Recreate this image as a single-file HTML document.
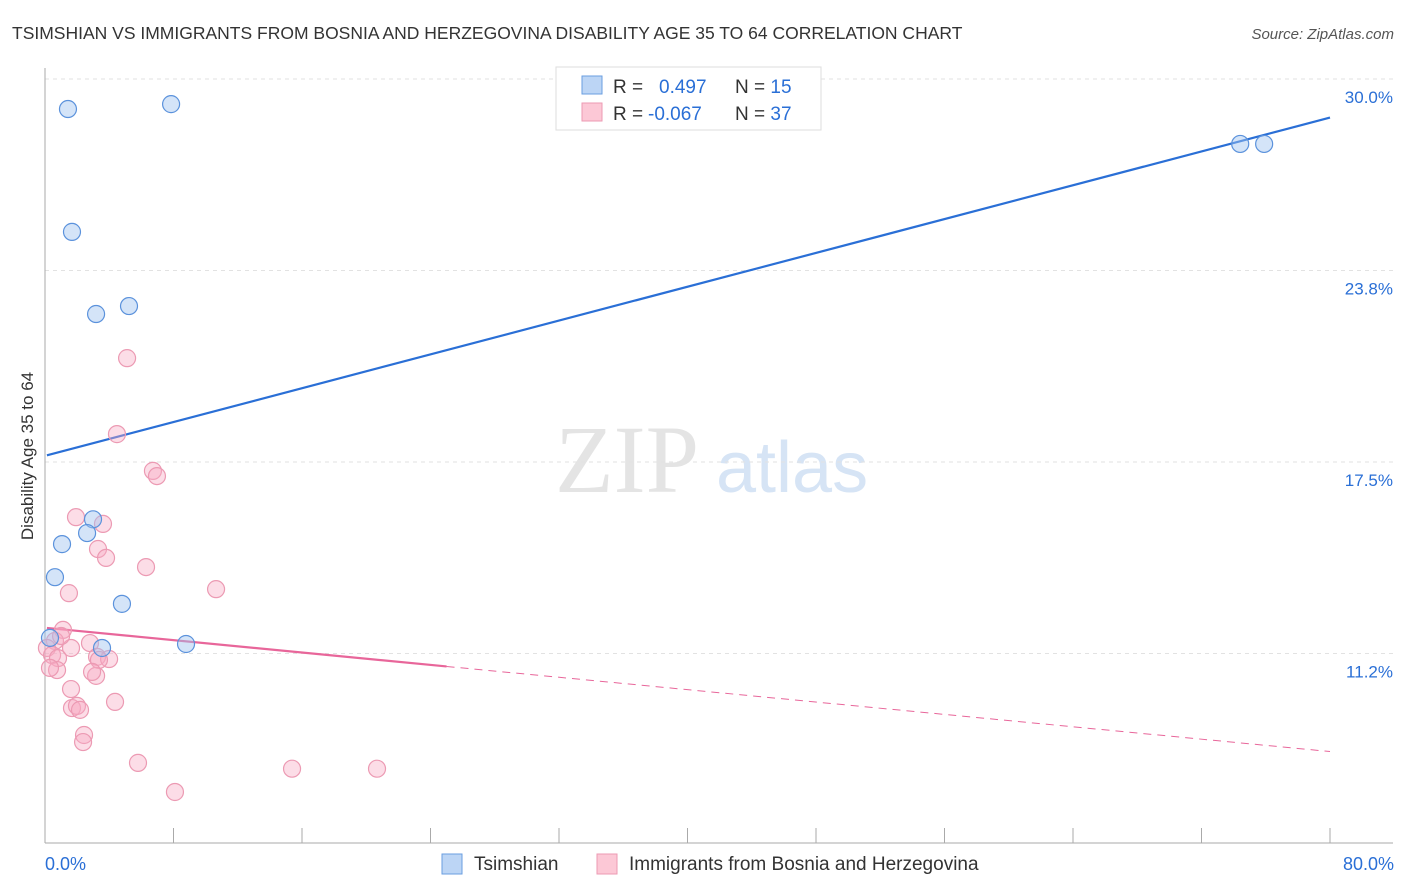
<!DOCTYPE html>
<html><head><meta charset="utf-8"><style>
body{margin:0;background:#fff;font-family:"Liberation Sans",sans-serif;}
svg{display:block}
</style></head><body>
<svg width="1406" height="892" id="chart">
<text x="12" y="39" font-size="17.5" fill="#333">TSIMSHIAN VS IMMIGRANTS FROM BOSNIA AND HERZEGOVINA DISABILITY AGE 35 TO 64 CORRELATION CHART</text>
<text x="1394" y="39" font-size="15" fill="#555" font-style="italic" text-anchor="end">Source: ZipAtlas.com</text>
<text x="555" y="492" font-size="96" fill="#e4e4e4" font-family="Liberation Serif,serif">ZIP</text>
<text x="716" y="492" font-size="72" fill="#d6e4f5">atlas</text>
<text transform="translate(33,456) rotate(-90)" font-size="17" fill="#333" text-anchor="middle">Disability Age 35 to 64</text>
<g id="grid"></g><g id="axes"></g><g id="lines"></g><g id="pts"></g>
<g>
<rect x="556" y="67" width="265" height="63" fill="#fff" stroke="#ddd"/>
<rect x="582" y="76" width="20" height="18" fill="#bcd5f5" stroke="#6a9ee0"/>
<rect x="582" y="103" width="20" height="18" fill="#fcc8d6" stroke="#ec9ab3"/>
<text x="613" y="93" font-size="19" fill="#333">R = <tspan fill="#2a6fd6" x="659">0.497</tspan><tspan x="735" fill="#333">N = </tspan><tspan fill="#2a6fd6">15</tspan></text>
<text x="613" y="120" font-size="19" fill="#333">R = <tspan fill="#2a6fd6" x="648">-0.067</tspan><tspan x="735" fill="#333">N = </tspan><tspan fill="#2a6fd6">37</tspan></text>
</g>
<g>
<rect x="442" y="854" width="20" height="20" fill="#bcd5f5" stroke="#6a9ee0"/>
<text x="474" y="870" font-size="19" fill="#333">Tsimshian</text>
<rect x="597" y="854" width="20" height="20" fill="#fcc8d6" stroke="#ec9ab3"/>
<text x="629" y="870" font-size="19" fill="#333">Immigrants from Bosnia and Herzegovina</text>
</g>
</svg>
<script>
const yTicks=[30.0,23.8,17.5,11.2];
const yTickVals=[30,23.75,17.5,11.25];
const xTickLabels=["0.0%","80.0%"];
const blueX=[1.43,7.85,1.68,3.18,5.23,2.99,2.62,1.06,0.62,4.79,3.55,8.78,0.31,74.41,75.90];
const blueY=[29.02,29.18,25.01,22.33,22.59,15.63,15.18,14.82,13.74,12.87,11.43,11.56,11.76,27.88,27.88];
const pinkX=[1.93,3.61,3.30,3.80,6.29,1.49,10.65,6.72,6.97,4.48,5.11,1.12,0.62,0.12,0.44,0.81,0.75,0.31,1.62,2.80,1.62,3.24,3.99,3.36,3.18,2.93,1.68,1.99,2.18,4.36,2.43,2.37,5.79,8.09,15.38,20.67,1.00];
const pinkY=[15.70,15.48,14.66,14.37,14.07,13.22,13.35,17.21,17.04,18.41,20.89,12.02,11.66,11.43,11.20,11.10,10.71,10.78,11.43,11.59,10.09,11.14,11.07,11.04,10.52,10.65,9.47,9.54,9.41,9.67,8.59,8.36,7.68,6.73,7.49,7.49,11.82];
const blueFit=[17.70,0.138];
const pinkFit=[12.09,-0.0505];
const NS="http://www.w3.org/2000/svg";
const xs=v=>45+v*1285/80;
const ys=v=>79+(30-v)*30.64;
function mk(t,a,p){const e=document.createElementNS(NS,t);for(const k in a)e.setAttribute(k,a[k]);document.getElementById(p).appendChild(e);return e;}
yTickVals.forEach((v,i)=>{
 const g=mk('line',{x1:45,x2:1393,y1:ys(v),y2:ys(v),stroke:'#e2e2e2','stroke-dasharray':'4,4'},'grid');
 
 
 const t=mk('text',{x:1393,y:ys(v)+24,'font-size':17,fill:'#2a6fd6','text-anchor':'end'},'axes');
 t.textContent=yTicks[i].toFixed(1)+'%';
 
 
});
mk('line',{x1:45,x2:45,y1:68,y2:843,stroke:'#aaa'},'axes');
mk('line',{x1:45,x2:1393,y1:843,y2:843,stroke:'#aaa'},'axes');
for(let i=0;i<=10;i++){const l=mk('line',{x1:xs(i*8),x2:xs(i*8),y1:828,y2:843,stroke:'#aaa'},'axes');}
[[0,'start',45],[80,'end',1394]].forEach((d,i)=>{const t=mk('text',{x:d[2],y:870,'font-size':18,fill:'#2a6fd6','text-anchor':d[1]},'axes');t.textContent=xTickLabels[i];});
const bl=mk('line',{x1:xs(0.12),y1:ys(blueFit[0]+blueFit[1]*0.12),x2:xs(80),y2:ys(blueFit[0]+blueFit[1]*80),stroke:'#2a6fd6','stroke-width':2.2},'lines');


const pl=mk('line',{x1:xs(0.12),y1:ys(pinkFit[0]+pinkFit[1]*0.12),x2:xs(25),y2:ys(pinkFit[0]+pinkFit[1]*25),stroke:'#e8669a','stroke-width':2.2},'lines');


const pd=mk('line',{x1:xs(25),y1:ys(pinkFit[0]+pinkFit[1]*25),x2:xs(80),y2:ys(pinkFit[0]+pinkFit[1]*80),stroke:'#e8669a','stroke-width':1,'stroke-dasharray':'8,6'},'lines');


pinkX.forEach((x,i)=>{const c=mk('circle',{cx:xs(x),cy:ys(pinkY[i]),r:8.5,fill:'rgba(248,170,195,0.4)',stroke:'#ec9ab3','stroke-width':1.2},'pts');
 
 });
blueX.forEach((x,i)=>{const c=mk('circle',{cx:xs(x),cy:ys(blueY[i]),r:8.5,fill:'rgba(160,195,240,0.45)',stroke:'#5b92dc','stroke-width':1.2},'pts');
 
 });
</script>
</body></html>
